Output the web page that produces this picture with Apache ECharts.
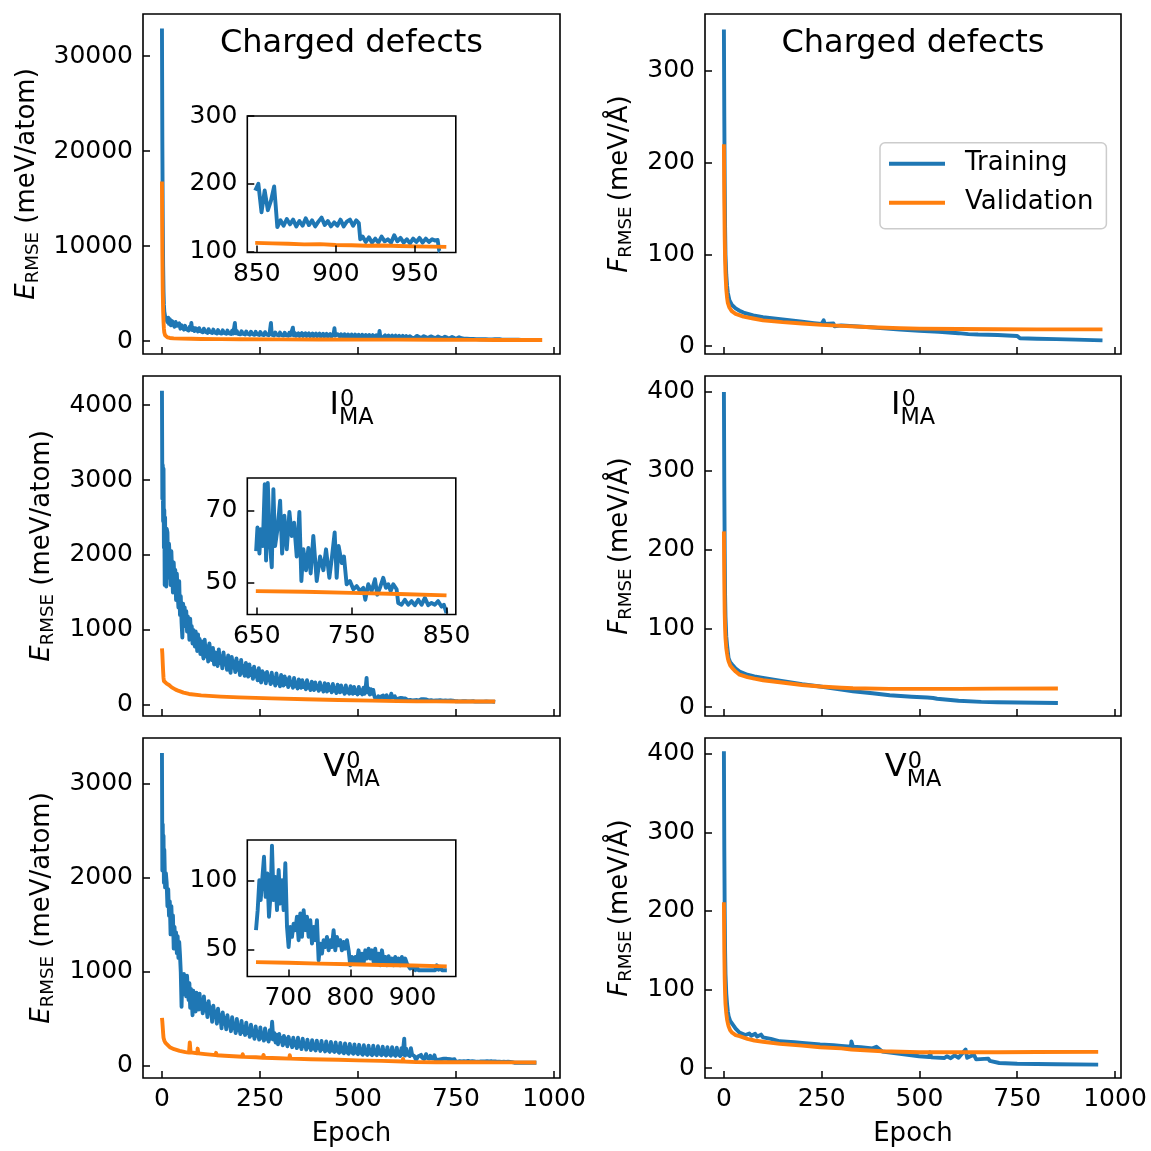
<!DOCTYPE html>
<html><head><meta charset="utf-8">
<script src="https://cdn.jsdelivr.net/npm/echarts@6/dist/echarts.min.js"></script>
<style>html,body{margin:0;padding:0;background:#fff}#c{width:1151px;height:1151px}</style>
</head><body><div id="c"></div>
<script>
// ---------------- DATA ----------------
// Row 1: Charged defects
const cdTrainE = [[0,32900],[1,21000],[2,13000],[3,8000],[4,5200],[5,3800],[6,3100],[8,2600],[10,2400],[12,2700],
[14,2000],[16,2450],[18,1800],[20,2300],[23,1650],[26,2100],[29,1900],[32,1500],[35,2000],[38,1600],[41,1400],[44,1850],[47,1300],[50,1650],[53,1450],[56,1200],[59,1600],[62,1250],[65,1450],[68,1100],[71,1500],[73,1250],[75,1900],[77,1150],[80,1400],[83,1050],[86,1350],[89,1150],[92,1000],[95,1350],[98,1050],[101,1250],[104,920],[107,1300],[110,1000],[113,1150],[116,850],[119,1250],[122,950],[125,1100],[128,850],[131,1200],[134,900],[137,1050],[140,800],[143,1150],[146,880],[149,1000],[152,780],[155,1120],[158,850],[161,980],[164,760],[167,1100],[170,820],[173,950],[176,740],[179,1080],[182,800],[185,920],[186,1900],[188,820],[191,1050],[194,760],[197,900],[200,700],[203,1030],[206,780],[209,880],[212,690],[215,1000],[218,760],[221,860],[224,670],[227,980],[230,740],[233,840],[236,650],[239,960],[242,720],[245,820],[248,640],[251,950],[254,700],[257,800],[260,620],[263,930],[266,690],[269,780],[272,610],[275,920],[278,1900],[280,680],[283,760],[286,590],[289,900],[292,660],[295,750],[298,580],[301,880],[304,640],[307,730],[310,570],[313,870],[316,630],[319,720],[322,560],[325,860],[328,620],[331,700],[334,1400],[336,600],[339,840],[342,550],[345,690],[348,800],[351,540],[354,670],[357,830],[360,530],[363,650],[366,810],[369,520],[372,640],[375,800],[378,510],[381,630],[384,790],[387,500],[390,620],[393,780],[396,500],[399,610],[402,770],[405,490],[408,600],[411,760],[414,480],[417,590],[420,750],[423,470],[426,580],[429,740],[432,460],[435,570],[438,730],[440,1350],[442,560],[445,460],[448,720],[451,550],[454,450],[457,710],[460,540],[463,440],[466,700],[469,530],[472,430],[475,690],[478,520],[481,420],[484,680],[487,510],[490,420],[493,670],[496,500],[499,410],[502,660],[505,490],[508,400],[511,650],[514,480],[517,400],[520,640],[523,470],[526,390],[529,630],[532,460],[535,380],[538,620],[541,450],[544,380],[547,610],[550,440],[553,370],[555,1050],[557,430],[560,600],[563,370],[566,420],[569,590],[572,360],[575,410],[578,580],[581,350],[584,400],[587,570],[590,340],[593,390],[596,560],[599,340],[602,380],[605,550],[608,330],[611,370],[614,540],[617,320],[620,360],[623,530],[626,310],[629,350],[632,510],[635,300],[638,340],[641,500],[644,300],[647,330],
[650,540],[653,360],[656,420],[659,520],[662,340],[665,400],[668,510],[671,330],[674,390],[677,500],[680,320],[683,380],[686,490],[689,310],[692,370],[695,480],[698,300],[701,360],[704,470],[707,300],[710,350],[713,460],[716,290],[719,340],[722,450],[725,280],[728,330],[731,440],[734,280],[737,320],[740,430],[743,270],[746,310],[749,420],[752,260],[755,300],[758,400],[761,250],[764,290],[767,380],[770,240],[774,350],[778,230],[782,320],[786,220],[790,300],[794,210],[798,280],[802,200],[806,260],[810,190],[814,240],[818,185],[822,225],[826,180],[830,210],[834,175],[838,200],[842,172],[846,185],
[849,190],[851,200],[853,158],[855,190],[857,161],[859,175],[861,196],[862,167],[863,136],[865,146],[867,138],[869,148],[871,140],[873,147],[875,137],[877,145],[879,138],[881,149],[883,139],[885,146],[887,137],[889,144],[891,150],[893,139],[895,145],[897,137],[899,143],[901,138],[903,147],[905,137],[907,144],[909,147],[911,138],[913,146],[914.6,142],[915.5,118],[917,122],[919,114],[921,121],[923,113],[925,119],[927,113],[929,122],[931,115],[933,118],[935,113],[937,124],[939,115],[941,120],[943,113],[945,118],[947,112],[949,119],[951,114],[953,120],[955,113],[957,119],[959,114],[961,118],[963,116],[964.5,117],[965.5,101],[966,100]];
const cdValE = [[0,16800],[1,9500],[2,5500],[3,3200],[4,2000],[5,1300],[6,900],[8,600],[10,480],[14,380],[20,320],[30,280],[50,250],[75,230],[100,215],[150,200],[200,190],[300,175],[400,160],[500,150],[600,140],[700,130],[800,120],[849,112.7],[860,112],[870,111.5],[880,110.5],[890,110.8],[900,109.5],[910,109.2],[920,108.5],[930,108.8],[940,108],[950,107.6],[960,107.2],[970,106.8]];
const cdTrainF = [[0,345],[1,250],[2,180],[3,130],[4,100],[6,78],[8,66],[10,58],[14,50],[20,45],[30,41],[40,38.5],[50,36.5],[75,33.5],[100,31.5],[150,29],[200,26.5],[230,25],[250,24],[255,28],[258,24],[280,24.5],[283,21.5],[300,22.5],[375,20.5],[400,19.5],[450,18],[500,16.5],[550,15.5],[600,14],[625,13],[650,12.5],[700,12],[750,11],[757,8.5],[800,8],[850,7.5],[900,7],[968,6.2]];
const cdValF = [[0,220],[1,160],[2,120],[3,95],[4,80],[6,62],[8,53],[10,47],[14,42],[20,38],[30,35],[50,32],[75,30],[100,28],[150,26],[200,24.5],[250,23],[300,22],[375,20.5],[450,19.5],[500,19],[600,18.5],[700,18.3],[800,18.2],[968,18.2]];

// Row 2: I_MA^0
const imTrainE = [[0,4190],[1,2750],[2,3200],[3,2450],[4,3150],[5,2100],[6,2600],[7,1600],[8,2500],[9,1700],[10,2300],[11,1580],[12,2350],
[14,2300],[16,1700],[18,2150],[20,1950],[22,1600],[24,2050],[26,1750],[28,1500],[30,1900],[32,1650],[34,1800],[36,1400],[38,1750],[40,1500],[42,1300],[44,1650],[46,1200],[48,1450],[50,1100],[52,900],[54,1350],[56,1150],[58,1300],[60,1050],[62,1250],[64,980],[66,1180],[68,1100],[70,870],[72,1150],[74,950],[76,1050],[78,820],[80,1000],[82,900],[84,780],[86,980],[88,850],[90,720],[92,940],[94,760],[96,880],[98,680],[100,850],[103,720],[106,620],[109,870],[112,650],[115,780],[118,580],[121,820],[124,680],[127,600],[130,760],[133,540],[136,700],[139,620],[142,520],[145,740],[148,560],[151,650],[154,490],[157,700],[160,540],[163,620],[166,470],[169,660],[172,520],[175,430],[178,640],[181,500],[184,580],[187,440],[190,620],[193,470],[196,560],[199,400],[202,600],[205,430],[208,520],[211,390],[214,560],[217,450],[220,380],[223,540],[226,400],[229,480],[232,350],[235,510],[238,380],[241,450],[244,330],[247,490],[250,360],[253,300],[256,450],[259,340],[262,420],[265,290],[268,440],[271,330],[274,380],[277,280],[280,430],[283,300],[286,360],[289,260],[292,420],[295,290],[298,350],[301,250],[304,400],[307,300],[310,260],[313,380],[316,280],[319,340],[322,240],[325,370],[328,270],[331,310],[334,230],[337,360],[340,250],[343,300],[346,220],[349,340],[352,260],[355,230],[358,330],[361,240],[364,290],[367,210],[370,330],[373,230],[376,270],[379,200],[382,310],[385,240],[388,200],[391,300],[394,220],[397,260],[400,190],[403,300],[406,210],[409,250],[412,180],[415,290],[418,220],[421,180],[424,280],[427,200],[430,240],[433,170],[436,280],[439,190],[442,230],[445,160],[448,270],[451,200],[454,170],[457,260],[460,180],[463,220],[466,150],[469,260],[472,170],[475,210],[478,150],[481,250],[484,180],[487,150],[490,240],[493,160],[496,200],[499,140],[502,240],[505,160],[508,200],[511,140],[514,230],[517,150],[520,250],[522,360],[524,170],[527,220],[530,140],[533,210],[536,150],[539,200],[541,140],[543,100],[546,125],[549,85],[552,115],[555,80],[558,110],[561,90],[564,125],[567,80],[570,105],[573,130],[576,85],[579,110],[582,90],[585,150],[588,100],[591,80],[594,115],[597,75],[600,100],[603,85],[606,70],[609,95],[612,72],[615,90],[618,65],[621,88],[624,70],[627,62],[630,82],[633,66],[636,78],[639,60],[642,72],[645,64],
[649.3,58.8],[650.7,65.4],[652.8,58.1],[654.2,64.9],[656.3,60.2],[658.4,77.4],[659.8,56.2],[661.6,77.7],[664,60.2],[665.8,54.3],[667.5,76],[669.3,60.2],[671.8,64.9],[674.6,72.8],[676.7,58.1],[679.1,68.6],[681.6,59.3],[684.4,69.7],[686.8,63],[689.3,66.7],[692.1,57.3],[694.9,69.7],[697,50.5],[699.1,59.3],[701.9,53.5],[704.4,59.7],[706.8,52.6],[709.6,63],[713.2,50.5],[716.7,57.3],[720.2,53.5],[723,59.3],[726.5,51.4],[729.3,57.3],[732.1,64],[734.2,51.4],[736.3,60.2],[739.5,55.5],[741.9,57.3],[744.7,49.6],[748.2,50.5],[751.8,48.2],[755.3,49.1],[758.8,47.7],[762.3,48.6],[764.4,45.3],[767.5,49.6],[771.1,47.7],[774.6,51],[777,46.7],[779.8,48.6],[783.3,51.4],[786.1,48.6],[788.6,49.6],[791.1,47.7],[793.9,49.6],[797.4,48.2],[799.1,44.4],[802.6,43.9],[806.1,45.3],[809.6,43.9],[813.2,44.9],[816.7,43.8],[820.2,45.3],[823.7,43.9],[827.2,45.8],[830.7,43.8],[834.2,44.4],[837.7,43.9],[841.2,44.9],[844.7,43.4],[847.2,43.9],[850,41.6]];
const imValE = [[0,756],[1,680],[2,560],[3,450],[4,360],[5,320],[8,300],[12,285],[18,267],[25,235],[35,205],[43,187],[55,165],[69,147],[100,128],[150,112],[197,102],[280,88],[367,76],[450,66],[537,58],[600,51],[649,47.7],[700,47.5],[750,47.2],[800,46.9],[850,46.5]];
const imTrainF = [[0,400],[1,280],[2,200],[3,143],[4,115],[6,90],[8,79],[10,70],[12,62],[16,57],[21,54],[30,49],[40,45],[60,41],[78,39],[100,37],[143,33.5],[200,29],[246,26],[300,22],[330,20],[380,17.5],[424,15],[480,13],[520,12],[535,11.5],[540,13],[545,10.5],[600,8],[658,6.5],[700,6],[854,5.2]];
const imValF = [[0,223],[1,160],[2,120],[3,100],[4,88],[6,75],[8,68],[10,62],[12,58],[16,53],[21,49.6],[30,45],[40,41],[60,38],[78,36],[100,34],[143,31.4],[200,28],[246,26],[300,24.5],[330,23.8],[424,23],[500,23],[600,23],[700,23.3],[854,23.5]];

// Row 3: V_MA^0
const vmTrainE = [[0,3330],[1,2080],[2,2570],[3,2100],[4,2450],[5,1950],[6,2300],[8,1900],[10,2050],
[12,1950],[14,1700],[16,1880],[18,1600],[20,1750],[22,1400],[24,1700],[26,1450],[28,1600],[30,1250],[32,1480],[34,1300],[36,1420],[38,1200],[40,1380],[42,1150],[44,1320],[46,1180],[48,1000],[50,630],[52,950],[54,820],[56,980],[58,760],[60,900],[62,740],[64,960],[66,800],[68,700],[70,880],[72,620],[74,820],[76,700],[78,540],[80,800],[82,650],[84,760],[86,580],[88,780],[90,640],[92,720],[94,600],[96,770],[98,620],[101,700],[104,560],[107,740],[110,590],[113,660],[116,520],[119,690],[122,560],[125,620],[128,470],[131,640],[134,520],[137,580],[140,450],[143,610],[146,480],[149,540],[152,400],[155,570],[158,450],[161,510],[164,390],[167,540],[170,430],[173,470],[176,370],[179,520],[182,400],[185,450],[188,350],[191,500],[194,380],[197,430],[200,340],[203,480],[206,360],[209,410],[212,330],[215,460],[218,350],[221,390],[224,310],[227,440],[230,330],[233,370],[236,290],[239,420],[242,320],[245,360],[248,280],[251,410],[254,300],[257,340],[260,270],[263,400],[266,290],[269,330],[272,260],[275,380],[278,290],[281,470],[284,280],[287,350],[290,250],[293,330],[296,230],[299,340],[302,260],[305,300],[308,220],[311,320],[314,240],[317,290],[320,210],[323,310],[326,240],[329,270],[332,200],[335,300],[338,220],[341,260],[344,190],[347,300],[350,210],[353,250],[356,180],[359,290],[362,210],[365,240],[368,175],[371,280],[374,200],[377,230],[380,170],[383,275],[386,200],[389,220],[392,165],[395,270],[398,190],[401,215],[404,160],[407,265],[410,180],[413,210],[416,155],[419,260],[422,180],[425,200],[428,150],[431,255],[434,175],[437,195],[440,150],[443,250],[446,170],[449,190],[452,140],[455,245],[458,165],[461,185],[464,135],[467,240],[470,160],[473,180],[476,130],[479,235],[482,160],[485,175],[488,130],[491,230],[494,150],[497,170],[500,125],[503,225],[506,150],[509,165],[512,120],[515,220],[518,145],[521,160],[524,118],[527,215],[530,140],[533,160],[536,115],[539,215],[542,140],[545,155],[548,115],[551,210],[554,140],[557,150],[560,115],[563,205],[566,135],[569,150],[572,112],[575,200],[578,135],[581,145],[584,110],[587,200],[590,130],[593,145],[596,108],[599,195],[602,130],[605,140],[608,106],[611,190],[614,125],[617,140],[618,290],[620,110],[623,185],[626,125],[629,135],[632,106],[635,190],[638,120],[641,130],[644,105],[646,90],
[648,64],[650.7,78.6],[653.4,100.5],[655.5,85.9],[658.2,101.7],[660.9,117.6],[663.5,88.3],[666.2,105.4],[668.9,73.8],[671.6,90.8],[673.7,125.7],[676.4,85.9],[679.1,102.9],[681.8,78.6],[684.5,107.9],[687.1,83.5],[689.8,100.5],[692.5,78.6],[695.2,112.8],[697.9,66.4],[700.5,51.7],[703.2,66.4],[705.9,59.1],[708.6,68.8],[711.3,64],[713.9,73.8],[716.6,56.7],[719.3,76.2],[722,59.1],[724.7,78.6],[727.3,64],[730,73.8],[732.7,59.1],[735.4,71.3],[738.1,54.2],[740.8,66.4],[743.4,56.7],[746.1,71.3],[748.8,42.1],[751.5,54.2],[754.2,46.9],[756.8,56.7],[759.5,51.7],[762.2,59.1],[764.9,49.3],[767.6,56.7],[770.2,51.7],[772.9,64],[775.6,49.3],[778.3,59.1],[781,53],[783.6,56.7],[786.3,49.3],[789,55.4],[791.7,50.5],[794.4,56.7],[797.1,49.3],[799.7,38.4],[802.4,44.5],[805.1,39.6],[807.8,44.5],[810.5,40.8],[813.1,49.3],[815.8,40.8],[818.5,46.9],[821.2,39.6],[823.9,49.3],[826.5,43.3],[829.2,50.5],[831.9,43.3],[834.6,49.3],[837.3,40.8],[839.9,50.5],[842.6,40.8],[845.3,46.9],[848,38.4],[850.7,49.3],[853.4,40.8],[856,44.5],[858.7,38.4],[861.4,45],[864.1,39.1],[866.8,43.3],[869.4,38.4],[872.1,44.5],[874.8,39.6],[877.5,43.3],[880.2,38.4],[882.8,44.5],[885.5,39.6],[888.2,43.3],[890.9,39.6],[893.6,40.8],[896.2,36],[898.9,34.8],[901.6,37.2],[904.3,34.8],[907,36.8],[909.7,34.8],[912.3,36],[915,34.8],[917.7,36],[920.4,34.8],[923.1,35.2],[925.7,34.8],[928.4,36],[931.1,34.8],[933.8,35.2],[936.5,34.8],[939.1,38.4],[941.8,35.2],[944.5,37.2],[947.2,34.8],[949.9,36],[952.5,34.8],[955.2,34.8]];
const vmValE = [[0,512],[1,470],[2,410],[3,350],[4,300],[6,270],[9,245],[12,225],[20,200],[31,178],[45,160],[60,148],[69,142],[71,250],[73,145],[90,135],[91,185],[93,134],[110,126],[137,115],[138,140],[140,114],[160,108],[205,98],[206,125],[208,97],[240,92],[258,88],[259,118],[261,88],[300,82],[325,78],[326,115],[328,78],[380,72],[450,66],[500,60],[560,54],[614,48],[615,75],[617,47],[648,40.7],[700,40.2],[750,39.6],[800,39.1],[850,38.6],[900,38.2],[955,37.6]];
const vmTrainF = [[0,403],[1,280],[2,200],[3,150],[4,120],[6,95],[8,82],[10,72],[12,66],[16,60],[21,57.6],[30,50],[40,45],[55,42],[65,44],[70,41],[80,43.5],[85,40],[95,42.5],[100,39],[120,37],[143,34],[180,33],[200,32],[246,30],[280,29],[300,28],[325,27],[326,33.7],[330,27],[350,26.5],[380,25],[390,27],[395,24.5],[405,21],[450,18],[499,15],[525,14],[527,20],[530,13.5],[564,12.8],[570,15],[580,12.5],[590,16],[600,13],[618,23.5],[622,13],[639,17],[645,11],[676,12],[680,9],[704,6.4],[750,5.5],[850,4.8],[957,4.3]];
const vmValF = [[0,211],[1,150],[2,115],[3,95],[4,82],[6,70],[8,62],[10,57],[12,53],[16,48],[21,45],[30,42],[40,40.5],[60,37],[78,35],[100,33.5],[143,30.7],[200,28.5],[246,26.5],[300,25],[326,23.5],[405,21.3],[499,20],[600,20],[700,20],[800,20.3],[957,20.5]];

// tick labels
const xTicks = [0, 250, 500, 750, 1000];
const cdETicks = [0, 10000, 20000, 30000];
const cdFTicks = [0, 100, 200, 300];
const imETicks = [0, 1000, 2000, 3000, 4000];
const imFTicks = [0, 100, 200, 300, 400];
const vmETicks = [0, 1000, 2000, 3000];
const vmFTicks = [0, 100, 200, 300, 400];
const insetXTicks = [[850, 900, 950], [650, 750, 850], [700, 800, 900]];
const insetYTicks = [[100, 200, 300], [50, 70], [50, 100]];
const insetFromEpoch = [849, 649, 648];
const seriesNames = ['Training', 'Validation'];

// ---------------- LAYOUT / STYLE ----------------
const FONT = 'DejaVu Sans';
const BLUE = '#1f77b4', ORANGE = '#ff7f0e';
const LW = 3.9;
const COLS = [{x: 143, w: 417}, {x: 705, w: 416}];
const ROWS = [{y: 14, h: 340}, {y: 376, h: 340}, {y: 738, h: 340}];
const INSET = {x: 247.3, w: 208.5, dy: 102, h: 136.5};
const xRange = [-48.35, 1015.35];
const yRanges = [[-1368, 34421], [-8.7, 362], [-147, 4387], [-11.4, 420.3], [-128, 3489], [-12.7, 420]];
const insetXR = [[844, 976], [640, 859.8], [634, 969.6]];
const insetYR = [[98.5, 300], [41.2, 79.1], [30.2, 129.8]];
const yTickSets = [cdETicks, cdFTicks, imETicks, imFTicks, vmETicks, vmFTicks];
const panelData = [[cdTrainE, cdValE], [cdTrainF, cdValF], [imTrainE, imValE], [imTrainF, imValF], [vmTrainE, vmValE], [vmTrainF, vmValF]];

const grids = [], xAxes = [], yAxes = [], series = [];
const tickStyle = {color: '#000', width: 1.5};
const plainFmt = v => String(v);
const lblStyle = {fontSize: 25, fontFamily: FONT, color: '#000', formatter: plainFmt};

const eName = '{it|E}{sub|RMSE}{n| (meV/atom)}';
const fName = '{it|F}{sub|RMSE}{n|\u2009(meV/Å)}';
const nameRich = {
  it: {fontStyle: 'italic', fontSize: 26, fontFamily: FONT, color: '#000', lineHeight: 30},
  sub: {fontSize: 18.2, fontFamily: FONT, color: '#000', lineHeight: 16, verticalAlign: 'bottom'},
  n: {fontSize: 26, fontFamily: FONT, color: '#000', lineHeight: 30}
};

function mkLine(name, data, idx, color, z) {
  return {type: 'line', name: name, xAxisIndex: idx, yAxisIndex: idx, data: data,
    showSymbol: false, symbol: 'none', clip: true, silent: true, z: z,
    lineStyle: {color: color, width: LW, join: 'round'}, itemStyle: {color: color},
    emphasis: {disabled: true}};
}

for (let r = 0; r < 3; r++) {
  for (let c = 0; c < 2; c++) {
    const gi = r * 2 + c;
    grids.push({left: COLS[c].x, top: ROWS[r].y, width: COLS[c].w, height: ROWS[r].h,
      show: true, borderColor: '#000', borderWidth: 1.6, backgroundColor: 'transparent'});
    const bottom = r === 2;
    xAxes.push({type: 'value', gridIndex: gi, min: xRange[0], max: xRange[1],
      axisLine: {show: false, onZero: false},
      axisTick: {show: true, inside: true, length: 7, customValues: xTicks, lineStyle: tickStyle},
      axisLabel: Object.assign({show: bottom, customValues: xTicks, margin: 9}, lblStyle),
      splitLine: {show: false},
      name: bottom ? 'Epoch' : '', nameLocation: 'middle', nameGap: 43,
      nameTextStyle: {fontSize: 26, fontFamily: FONT, color: '#000'}});
    let gap;
    if (c === 0) gap = (r === 0) ? 101 : 86; else gap = 70;
    yAxes.push({type: 'value', gridIndex: gi, min: yRanges[gi][0], max: yRanges[gi][1],
      axisLine: {show: false, onZero: false},
      axisTick: {show: true, inside: true, length: 7, customValues: yTickSets[gi], lineStyle: tickStyle},
      axisLabel: Object.assign({show: true, customValues: yTickSets[gi], margin: 10}, lblStyle),
      splitLine: {show: false},
      name: c === 0 ? eName : fName, nameLocation: 'middle', nameRotate: 90, nameGap: gap,
      nameTextStyle: {fontSize: 26, fontFamily: FONT, color: '#000', rich: nameRich}});
    const [tr, va] = panelData[gi];
    series.push(mkLine(seriesNames[0], tr, gi, BLUE, 2));
    series.push(mkLine(seriesNames[1], va, gi, ORANGE, 3));
  }
}
// insets (left column): plot the tail of the same data
for (let r = 0; r < 3; r++) {
  const gi = 6 + r;
  grids.push({left: INSET.x, top: ROWS[r].y + INSET.dy, width: INSET.w, height: INSET.h, z: 5,
    show: true, borderColor: '#000', borderWidth: 1.6, backgroundColor: '#fff'});
  xAxes.push({type: 'value', gridIndex: gi, min: insetXR[r][0], max: insetXR[r][1], z: 8,
    axisLine: {show: false, onZero: false},
    axisTick: {show: true, inside: true, length: 7, customValues: insetXTicks[r], lineStyle: tickStyle},
    axisLabel: Object.assign({show: true, customValues: insetXTicks[r], margin: 9}, lblStyle),
    splitLine: {show: false}});
  yAxes.push({type: 'value', gridIndex: gi, min: insetYR[r][0], max: insetYR[r][1], z: 8,
    axisLine: {show: false, onZero: false},
    axisTick: {show: true, inside: true, length: 7, customValues: insetYTicks[r], lineStyle: tickStyle},
    axisLabel: Object.assign({show: true, customValues: insetYTicks[r], margin: 10}, lblStyle),
    splitLine: {show: false}});
  const [tr, va] = panelData[r * 2];
  const from = insetFromEpoch[r];
  series.push(mkLine(seriesNames[0], tr.filter(p => p[0] >= from), gi, BLUE, 6));
  series.push(mkLine(seriesNames[1], va.filter(p => p[0] >= from), gi, ORANGE, 7));
}

// titles
const mctx = document.createElement('canvas').getContext('2d');
function tw(t, size) { mctx.font = size + 'px "DejaVu Sans"'; return mctx.measureText(t).width; }
const MID = 0.346;
function txt(t, x, y, size, align) {
  return {type: 'text', x: x, y: y - MID * size, z: 20, silent: true,
    style: {text: t, fontSize: size, fontFamily: FONT, fill: '#000', textAlign: align || 'left', textVerticalAlign: 'middle', verticalAlign: 'middle'}};
}
const graphics = [];
const TB = 40.5, TS = 32, SS = 22.4;
for (let c = 0; c < 2; c++) {
  const cx = COLS[c].x + COLS[c].w / 2;
  graphics.push(txt('Charged defects', cx, ROWS[0].y + TB, TS, 'center'));
  [['I', 1], ['V', 2]].forEach(([b, r]) => {
    const wb = tw(b, TS), ws = Math.max(tw('0', SS), tw('MA', SS));
    const x0 = cx - (wb + ws) / 2, yb = ROWS[r].y + TB;
    graphics.push(txt(b, x0, yb, TS));
    graphics.push(txt('0', x0 + wb + 1, yb - 9, SS));
    graphics.push(txt('MA', x0 + wb, yb + 9, SS));
  });
}

const chart = echarts.init(document.getElementById('c'), null, {renderer: 'canvas'});
chart.setOption({
  animation: false,
  backgroundColor: '#fff',
  grid: grids, xAxis: xAxes, yAxis: yAxes, series: series,
  legend: {
    data: seriesNames, orient: 'vertical', left: 880, top: 142.7,
    icon: 'rect', itemWidth: 56, itemHeight: 4, itemGap: 9,
    padding: [6, 13, 11, 9],
    backgroundColor: 'rgba(255,255,255,0.8)', borderColor: '#cccccc', borderWidth: 1.5, borderRadius: 5,
    textStyle: {fontSize: 26, fontFamily: FONT, color: '#000', lineHeight: 30, padding: [0, 0, 0, 15]},
    selectedMode: false, z: 30
  },
  graphic: {elements: graphics}
});
</script></body></html>
